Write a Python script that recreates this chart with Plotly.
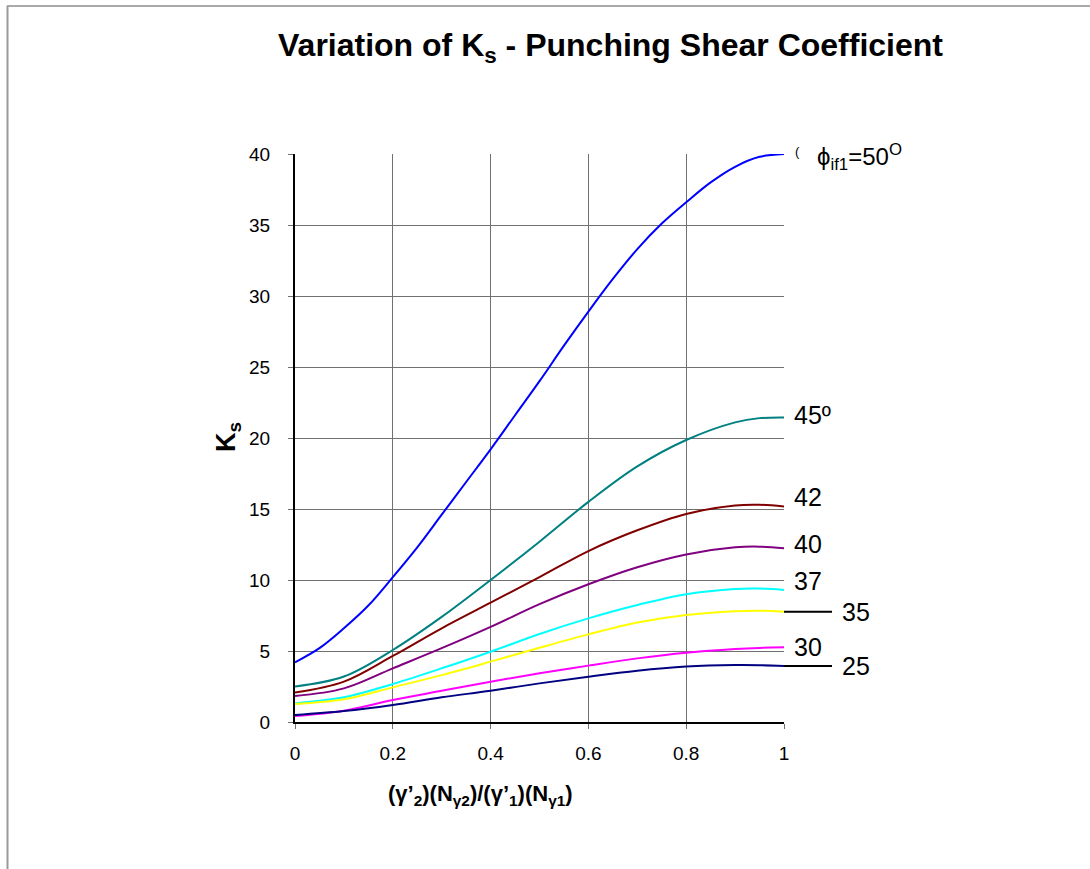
import plotly.graph_objects as go

# ---- data ----
x_fine = [0, 0.05, 0.1, 0.15, 0.2, 0.25, 0.3, 0.35, 0.4, 0.45, 0.5,
          0.55, 0.6, 0.65, 0.7, 0.75, 0.8, 0.85, 0.9, 0.95, 1.0]
ks_50 = [4.2, 5.2, 6.6, 8.2, 10.2, 12.3, 14.6, 16.9, 19.2, 21.6, 24.0,
         26.5, 28.9, 31.2, 33.3, 35.1, 36.6, 38.0, 39.1, 39.8, 40.0]

x_vals = [0, 0.1, 0.2, 0.3, 0.4, 0.5, 0.6, 0.7, 0.8, 0.9, 0.95, 1.0]
ks_45 = [2.5, 3.2, 5.07, 7.4, 10.0, 12.7, 15.5, 18.0, 19.86, 21.1, 21.4, 21.45]
ks_42 = [2.07, 2.84, 4.65, 6.6, 8.4, 10.2, 12.04, 13.5, 14.65, 15.25, 15.3, 15.17]
ks_40 = [1.83, 2.37, 3.78, 5.2, 6.7, 8.3, 9.7, 10.9, 11.8, 12.3, 12.35, 12.23]
ks_37 = [1.31, 1.74, 2.68, 3.78, 4.95, 6.2, 7.3, 8.24, 9.0, 9.37, 9.4, 9.3]
ks_35 = [1.27, 1.6, 2.44, 3.3, 4.25, 5.23, 6.17, 7.0, 7.53, 7.8, 7.84, 7.77]
ks_30 = [0.42, 0.8, 1.55, 2.2, 2.84, 3.43, 3.97, 4.48, 4.88, 5.14, 5.22, 5.26]
ks_25 = [0.49, 0.77, 1.2, 1.74, 2.2, 2.72, 3.19, 3.61, 3.9, 4.01, 4.0, 3.94]

series = [
    ("50", x_fine, ks_50, "#0000FF"),
    ("45", x_vals, ks_45, "#008080"),
    ("42", x_vals, ks_42, "#800000"),
    ("40", x_vals, ks_40, "#800080"),
    ("37", x_vals, ks_37, "#00FFFF"),
    ("35", x_vals, ks_35, "#FFFF00"),
    ("30", x_vals, ks_30, "#FF00FF"),
    ("25", x_vals, ks_25, "#000080"),
]

# right-side labels: (text, y value, x pixel shift, has leader line)
labels = [
    ("45º", ks_45[-1] + 0.2, 8, False),
    ("42", ks_42[-1] + 0.65, 8, False),
    ("40", ks_40[-1] + 0.3, 8, False),
    ("37", ks_37[-1] + 0.6, 8, False),
    ("35", ks_35[-1], 56, True),
    ("30", ks_30[-1] + 0.0, 8, False),
    ("25", ks_25[-1], 56, True),
]

Y_MIN, Y_MAX = 0, 40
FONT = "Liberation Sans, Arial, sans-serif"

# plot area in page px is 295..784 x 154..722 (body margin removed)
PL, PR, PT, PB = 295, 784, 154, 722
PW, PH = PR - PL, PB - PT


def px(xp):
    return (xp - PL) / PW


def py(yp):
    return (PB - yp) / PH


fig = go.Figure()
for name, xs_, ys, col in series:
    fig.add_trace(go.Scatter(x=xs_, y=ys, mode="lines", name=name,
                             line=dict(color=col, width=2, shape="spline", smoothing=1.0),
                             showlegend=False, hoverinfo="skip"))

annotations = []
shapes = []
for txt, yv, xs, lead in labels:
    annotations.append(dict(x=1, xref="paper", y=yv, yref="y", text=txt, showarrow=False,
                            xanchor="left", yanchor="middle", xshift=xs,
                            font=dict(family=FONT, size=25, color="black")))
    if lead:
        yp = (yv - Y_MIN) / (Y_MAX - Y_MIN)
        shapes.append(dict(type="line", xref="paper", yref="paper", x0=1.0, x1=px(832),
                           y0=yp, y1=yp, line=dict(color="black", width=2)))

annotations.append(dict(x=px(815), xref="paper", y=40, yref="y",
                        text="ϕ<sub>if1</sub>=50<sup>O</sup>", showarrow=False,
                        xanchor="left", yanchor="middle", yshift=-3,
                        font=dict(family=FONT, size=24, color="black")))
annotations.append(dict(x=px(793), xref="paper", y=40, yref="y", text="(", showarrow=False,
                        xanchor="left", yanchor="middle", yshift=3,
                        font=dict(family=FONT, size=13, color="black")))

# title
annotations.append(dict(x=px(610), xref="paper", y=py(47), yref="paper",
                        text="<b>Variation of K<sub>s</sub> - Punching Shear Coefficient</b>",
                        showarrow=False, xanchor="center", yanchor="middle",
                        font=dict(family=FONT, size=32, color="black")))
# x title
annotations.append(dict(x=px(480), xref="paper", y=py(795), yref="paper",
                        text="<b>(γ’<sub>2</sub>)(N<sub>γ2</sub>)/(γ’<sub>1</sub>)(N<sub>γ1</sub>)</b>",
                        showarrow=False, xanchor="center", yanchor="middle",
                        font=dict(family=FONT, size=22, color="black")))
# y title
annotations.append(dict(x=px(228), xref="paper", y=py(437), yref="paper",
                        text="<b>K<sub>s</sub></b>", textangle=-90,
                        showarrow=False, xanchor="center", yanchor="middle",
                        font=dict(family=FONT, size=27, color="black")))

# outer frame lines (top and left)
shapes.append(dict(type="line", xref="paper", yref="paper",
                   x0=px(7), x1=px(1100), y0=py(6), y1=py(6),
                   line=dict(color="#555555", width=1)))
shapes.append(dict(type="line", xref="paper", yref="paper",
                   x0=px(7.5), x1=px(7.5), y0=py(6), y1=py(880),
                   line=dict(color="#999999", width=2)))

W, H = 1090, 869
fig.update_layout(
    width=W, height=H,
    margin=dict(l=PL, r=W - PR, t=PT, b=H - PB),
    paper_bgcolor="white", plot_bgcolor="white",
    font=dict(family=FONT, size=19, color="black"),
    annotations=annotations, shapes=shapes,
    xaxis=dict(range=[0, 1], tickvals=[0, 0.2, 0.4, 0.6, 0.8, 1],
               ticktext=["0", "0.2", "0.4", "0.6", "0.8", "1"],
               showgrid=True, gridcolor="#707070", gridwidth=1,
               showline=True, linecolor="black", linewidth=2,
               ticks="outside", ticklen=5, tickcolor="#707070",
               ticklabelstandoff=8,
               zeroline=False, fixedrange=True,
               tickfont=dict(family=FONT, size=19)),
    yaxis=dict(range=[Y_MIN, Y_MAX], tickvals=list(range(0, 41, 5)),
               showgrid=True, gridcolor="#707070", gridwidth=1,
               showline=True, linecolor="black", linewidth=2,
               ticks="outside", ticklen=5, tickcolor="#707070",
               ticklabelstandoff=14,
               zeroline=False, fixedrange=True,
               tickfont=dict(family=FONT, size=19)),
)

fig.write_html("out.html", config={"displayModeBar": False},
               post_script="document.body.style.margin='0';document.body.style.overflow='hidden';")
